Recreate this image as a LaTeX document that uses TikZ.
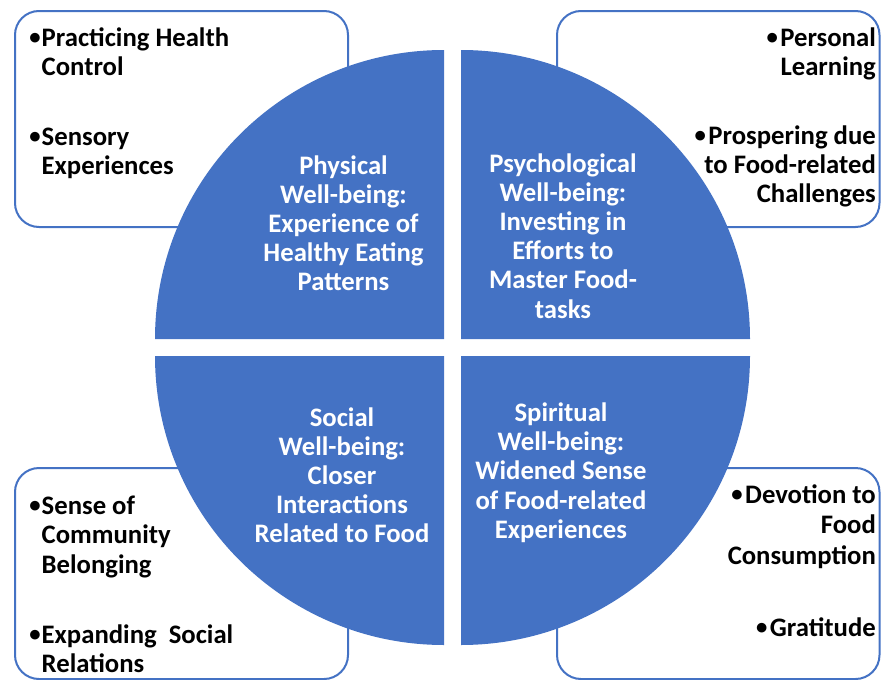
\documentclass[tikz,border=0pt]{standalone}
\usepackage{fontspec}
\usepackage{graphicx}
\setmainfont{Carlito}
\definecolor{qblue}{HTML}{4472C4}
% a slightly smaller bullet, kept on the same vertical centre
\newcommand\smallbul{\raisebox{1.3pt}{\scalebox{0.85}{\textbullet}}}
\begin{document}
\begin{tikzpicture}[x=1pt,y=-1pt,
  txt/.style={font=\fontsize{26.7}{29.3}\selectfont\bfseries, inner sep=0pt},
  qtxt/.style={txt, text=white, anchor=base},
  lefttxt/.style={txt, text=black, anchor=base west},
  righttxt/.style={txt, text=black, anchor=base east},
  dotmark/.style={txt, text=black, anchor=base},
  panel/.style={draw=qblue, line width=2pt, rounded corners=24pt, fill=white},
  quad/.style={fill=qblue}]

\useasboundingbox (0,0) rectangle (881,680);

% outlined panels behind the disc
\draw[panel] (15,11) rectangle (348,227);
\draw[panel] (557,11) rectangle (879.5,227);
\draw[panel] (15,468) rectangle (348,679);
\draw[panel] (557,468) rectangle (879.5,679);

% four quarter discs
\fill[quad] (444,339) -- (155,339) arc[start angle=180, end angle=90, radius=289pt] -- cycle;
\fill[quad] (461,339) -- (461,50) arc[start angle=90, end angle=0, radius=289pt] -- cycle;
\fill[quad] (444,356) -- (155,356) arc[start angle=180, end angle=270, radius=289pt] -- cycle;
\fill[quad] (461,356) -- (750,356) arc[start angle=0, end angle=-90, radius=289pt] -- cycle;

% quadrant titles
\foreach \t [count=\i] in {Physical, Well-being:, Experience of, Healthy Eating, Patterns}
  \node[qtxt, name=phys\i] at (343.5, {174+29.2*(\i-1)}) {\t};
\foreach \t [count=\i] in {Psychological, Well-being:, Investing in, Efforts to, Master Food-, tasks}
  \node[qtxt, name=psych\i] at (563, {172+29.2*(\i-1)}) {\t};
\foreach \t [count=\i] in {Social, Well-being:, Closer, Interactions, Related to Food}
  \node[qtxt, name=soc\i] at (342, {426+29.2*(\i-1)}) {\t};
\foreach \t [count=\i] in {Spiritual, Well-being:, Widened Sense, of Food-related, Experiences}
  \node[qtxt, name=spir\i] at (561, {421.5+29.2*(\i-1)}) {\t};

% top-left panel
\node[dotmark] (tlb1) at (35,46) {\smallbul};
\node[lefttxt] (tl1) at (41.5,46) {Practicing Health};
\node[lefttxt] (tl2) at (41.5,75.5) {Control};
\node[dotmark] (tlb2) at (35,145) {\smallbul};
\node[lefttxt] (tl3) at (41.5,145) {Sensory};
\node[lefttxt] (tl4) at (41.5,174) {Experiences};

% top-right panel
\node[righttxt] (tr1) at (876,46) {\smallbul\hspace{2.5pt}Personal};
\node[righttxt] (tr2) at (876,75.5) {Learning};
\node[righttxt] (tr3) at (876,144) {\smallbul\hspace{2.5pt}Prospering due};
\node[righttxt] (tr4) at (876,173) {to Food-related};
\node[righttxt] (tr5) at (876,202) {Challenges};

% bottom-left panel
\node[dotmark] (blb1) at (35,514) {\smallbul};
\node[lefttxt] (bl1) at (41.5,514) {Sense of};
\node[lefttxt] (bl2) at (41.5,543.5) {Community};
\node[lefttxt] (bl3) at (41.5,573) {Belonging};
\node[dotmark] (blb2) at (35,643) {\smallbul};
\node[lefttxt] (bl4) at (41.5,643) {Expanding~~Social};
\node[lefttxt] (bl5) at (41.5,672) {Relations};

% bottom-right panel
\node[righttxt] (br1) at (876,503) {\smallbul\hspace{2.5pt}Devotion to};
\node[righttxt] (br2) at (876,533) {Food};
\node[righttxt] (br3) at (876,564) {Consumption};
\node[righttxt] (br4) at (876,636) {\smallbul\hspace{2.5pt}Gratitude};
\end{tikzpicture}
\end{document}
